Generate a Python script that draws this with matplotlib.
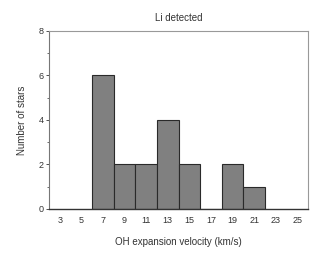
import matplotlib
matplotlib.use("Agg")
import matplotlib.pyplot as plt
from matplotlib.ticker import MultipleLocator

plt.rcParams['font.family'] = ['Liberation Sans', 'DejaVu Sans']

bin_left = [6, 8, 10, 12, 14, 16, 18, 20]
counts = [6, 2, 2, 4, 2, 0, 2, 1]
xticks = [3, 5, 7, 9, 11, 13, 15, 17, 19, 21, 23, 25]
yticks = [0, 2, 4, 6, 8]

fig = plt.figure(figsize=(3.22, 2.58), dpi=100)
ax = fig.add_axes([0.152, 0.19, 0.805, 0.69])
ax.bar(bin_left, counts, width=2, align='edge', color='#808080',
       edgecolor='#2a2a2a', linewidth=0.8)
ax.set_xlim(2, 26)
ax.set_ylim(0, 8)
ax.set_xticks(xticks)
ax.set_yticks(yticks)
ax.yaxis.set_minor_locator(MultipleLocator(1))
ax.tick_params(axis='x', length=0, labelsize=6.5, colors='#333333', pad=5)
ax.tick_params(axis='y', which='major', length=2, width=0.6, labelsize=6.5, colors='#333333', pad=2)
ax.tick_params(axis='y', which='minor', length=1.5, width=0.5, colors='#333333')
for s in ['top', 'right']:
    ax.spines[s].set_color('#999999')
    ax.spines[s].set_linewidth(0.8)
ax.spines['left'].set_color('#777777')
ax.spines['left'].set_linewidth(0.8)
ax.spines['bottom'].set_color('#333333')
ax.spines['bottom'].set_linewidth(1.0)
ax.set_title('Li detected', fontsize=7, color='#333333', pad=7)
ax.set_xlabel('OH expansion velocity (km/s)', fontsize=7, color='#333333', labelpad=9)
ax.set_ylabel('Number of stars', fontsize=7, color='#333333', labelpad=8)
fig.savefig('out.png', dpi=100)
